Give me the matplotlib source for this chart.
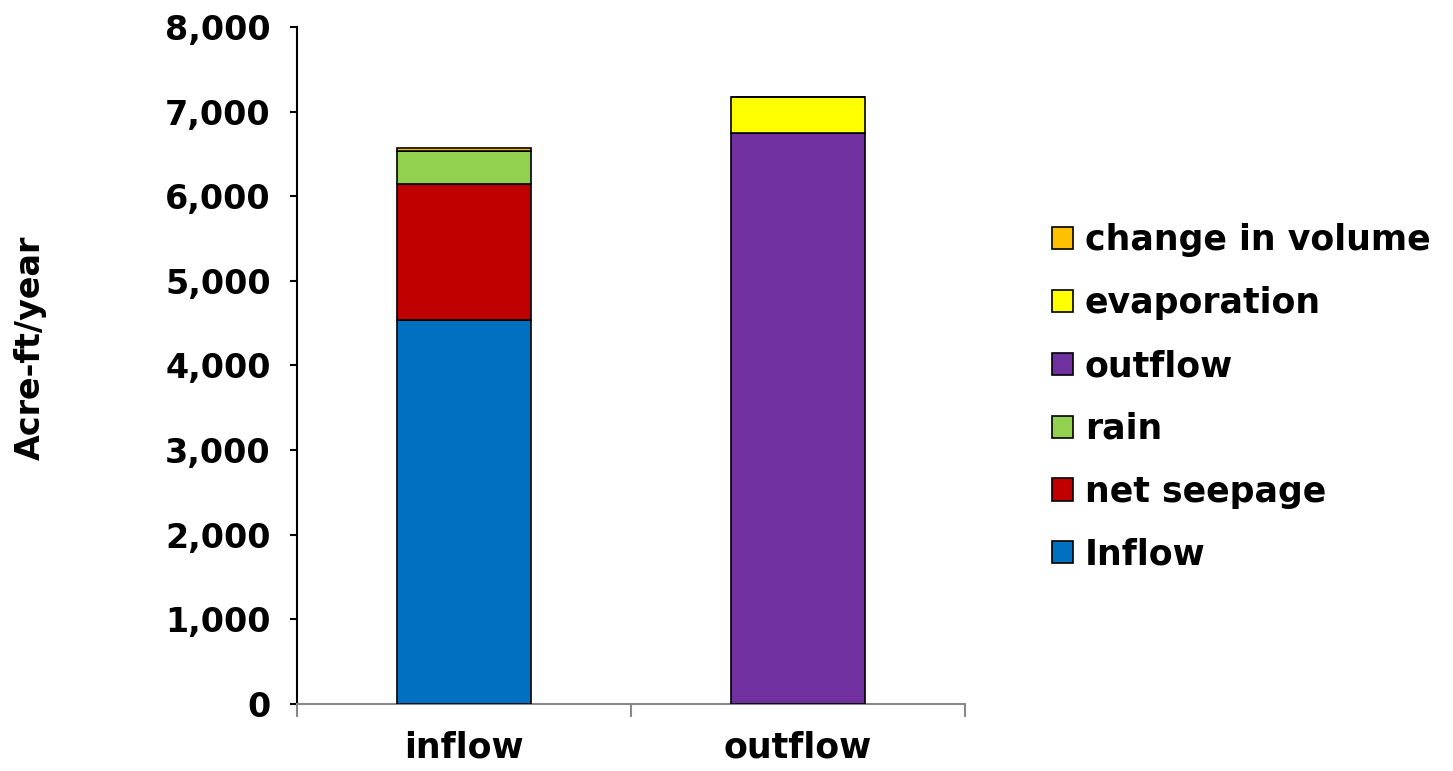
import matplotlib
matplotlib.use("Agg")
import matplotlib.pyplot as plt
from matplotlib.ticker import FuncFormatter

plt.rcParams['font.family'] = ['DejaVu Sans']
plt.rcParams['font.weight'] = 'bold'

categories = ['inflow', 'outflow']
series_names = ['Inflow', 'net seepage', 'rain', 'outflow', 'evaporation', 'change in volume']
inflow_vals = [4540, 1600, 395, 0, 0, 40]
outflow_vals = [0, 0, 0, 6750, 420, 0]
colors = ['#0070c0', '#c00000', '#92d050', '#7030a0', '#ffff00', '#ffc000']

fig = plt.figure(figsize=(14.53, 7.71), dpi=100)
ax = fig.add_axes([0.2044, 0.0869, 0.4597, 0.8781])

x = [0, 1]
bottoms = [0, 0]
handles = []
for i, name in enumerate(series_names):
    h = [inflow_vals[i], outflow_vals[i]]
    bars = ax.bar(x, h, width=0.4, bottom=bottoms, color=colors[i],
                  edgecolor='black', linewidth=1.2, label=name, zorder=3)
    handles.append(bars)
    bottoms = [bottoms[0] + h[0], bottoms[1] + h[1]]

ax.set_xlim(-0.5, 1.5)
ax.set_ylim(0, 8000)
ax.set_yticks(range(0, 8001, 1000))
ax.yaxis.set_major_formatter(FuncFormatter(lambda v, p: f"{int(v):,}"))
ax.set_xticks([0, 1])
ax.set_xticklabels(categories)
ax.set_xticks([-0.5, 0.5, 1.5], minor=True)
ax.tick_params(axis='x', which='major', length=0, pad=19, labelsize=25)
ax.tick_params(axis='x', which='minor', length=9, color='#888888', width=1.5)
ax.tick_params(axis='y', length=5, width=1.5, color='black', labelsize=24, pad=14)

for s in ['top', 'right']:
    ax.spines[s].set_visible(False)
ax.spines['left'].set_linewidth(1.5)
ax.spines['bottom'].set_color('#888888')
ax.spines['bottom'].set_linewidth(1.5)

ax.set_ylabel('Acre-ft/year', fontsize=24, fontweight='bold')
ax.yaxis.set_label_coords(-0.374, 0.526)

leg = fig.legend(handles[::-1], series_names[::-1], loc='center left',
                 bbox_to_anchor=(0.724, 0.4844), frameon=False, fontsize=25,
                 handlelength=0.6, handleheight=0.6, handletextpad=0.35,
                 labelspacing=0.83, borderpad=0, borderaxespad=0)

fig.savefig('out.png', dpi=100)
